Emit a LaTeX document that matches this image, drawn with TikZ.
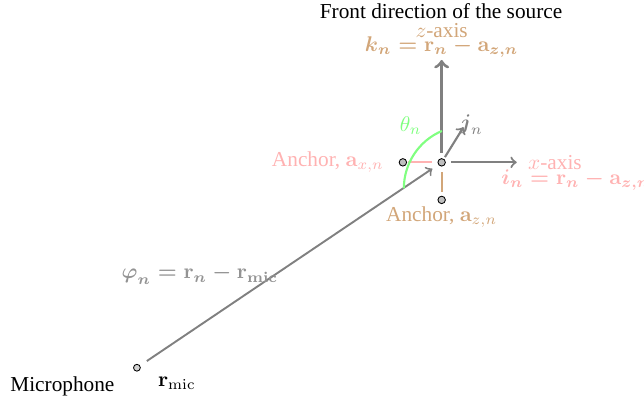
\documentclass[tikz,border=0pt]{standalone}
\usepackage{amsmath}
\usepackage[no-math]{fontspec}
\setmainfont{Liberation Serif}
\colorlet{anchorz}{brown!70}
\colorlet{anchorx}{red!30}
\colorlet{anglecol}{green!50}

\begin{document}
\begin{tikzpicture}[
  dot/.style={circle, draw, fill=gray!50, inner sep=0pt, minimum size=3.5pt},
  boldeq/.style={font=\boldmath},
  ]
  \useasboundingbox (0,0) rectangle (10.63,6.68);
  % Source position and anchors
  \node[dot, outer sep=2.8pt] (rn) at (7.29,4.00) {};
  \node[dot, outer sep=0.6pt] (ax) at (6.65,4.00) {};
  \node[dot, outer sep=2.1pt] (az) at (7.29,3.38) {};
  \node[anchorx, anchor=east] (axlabel) at (6.46,4.01) {Anchor, $\mathbf{a}_{x,n}$};
  \node[anchorz] (azlabel) at (7.29,3.10) {Anchor, $\mathbf{a}_{z,n}$};
  % Anchor links
  \draw[anchorx, line width=1pt] (ax) -- (rn);
  \draw[anchorz, line width=1pt] (az) -- (rn);
  % z-axis
  \coordinate (ztip) at (7.29,5.69);
  \draw[->, gray, line width=1.5pt] (rn) -- (ztip);
  \node[anchorz] (zlabel) at (7.29,6.17) {$z$-axis};
  \node[anchorz, boldeq] (keq) at (7.29,5.90) {$\boldsymbol{k}_n=\mathbf{r}_n-\mathbf{a}_{z,n}$};
  \node (front) at (7.28,6.49) {Front direction of the source};
  % x-axis
  \coordinate (xtip) at (8.53,4.00);
  \draw[->, gray, line width=1pt] (rn) -- (xtip);
  \node[anchorx] (xlabel) at (9.16,3.99) {$x$-axis};
  \node[anchorx, boldeq, anchor=west, inner sep=0pt] (ieq) at (8.27,3.71) {$\boldsymbol{i}_n=\mathbf{r}_n-\mathbf{a}_{z,n}$};
  % y-axis
  \coordinate (jtip) at (7.65,4.58);
  \draw[->, gray, line width=1pt, shorten <=2.9pt] (rn.center) -- (jtip);
  \node[gray] (jlabel) at (7.78,4.62) {$\boldsymbol{j}_n$};
  % Microphone
  \node[dot, fill=gray!35, minimum size=3.2pt, outer sep=4pt, thin] (mic) at (2.26,0.61) {};
  \node (miclabel) at (1.03,0.31) {Microphone};
  \node (rmic) at (2.92,0.35) {$\mathbf{r}_{\mathrm{mic}}$};
  \draw[->, gray, line width=0.9pt, shorten >=0.7pt] (mic) -- (rn);
  \node[gray!85, boldeq] (phieq) at (3.30,2.145) {$\boldsymbol{\varphi}_n=\mathbf{r}_n-\mathbf{r}_{\mathrm{mic}}$};
  % Angle
  \coordinate (arcstart) at (6.666,3.57);
  \draw[anglecol, line width=1pt] (arcstart) arc[start angle=180, end angle=113, radius=1.03];
  \node[anglecol] (theta) at (6.78,4.61) {$\theta_n$};
\end{tikzpicture}
\end{document}
